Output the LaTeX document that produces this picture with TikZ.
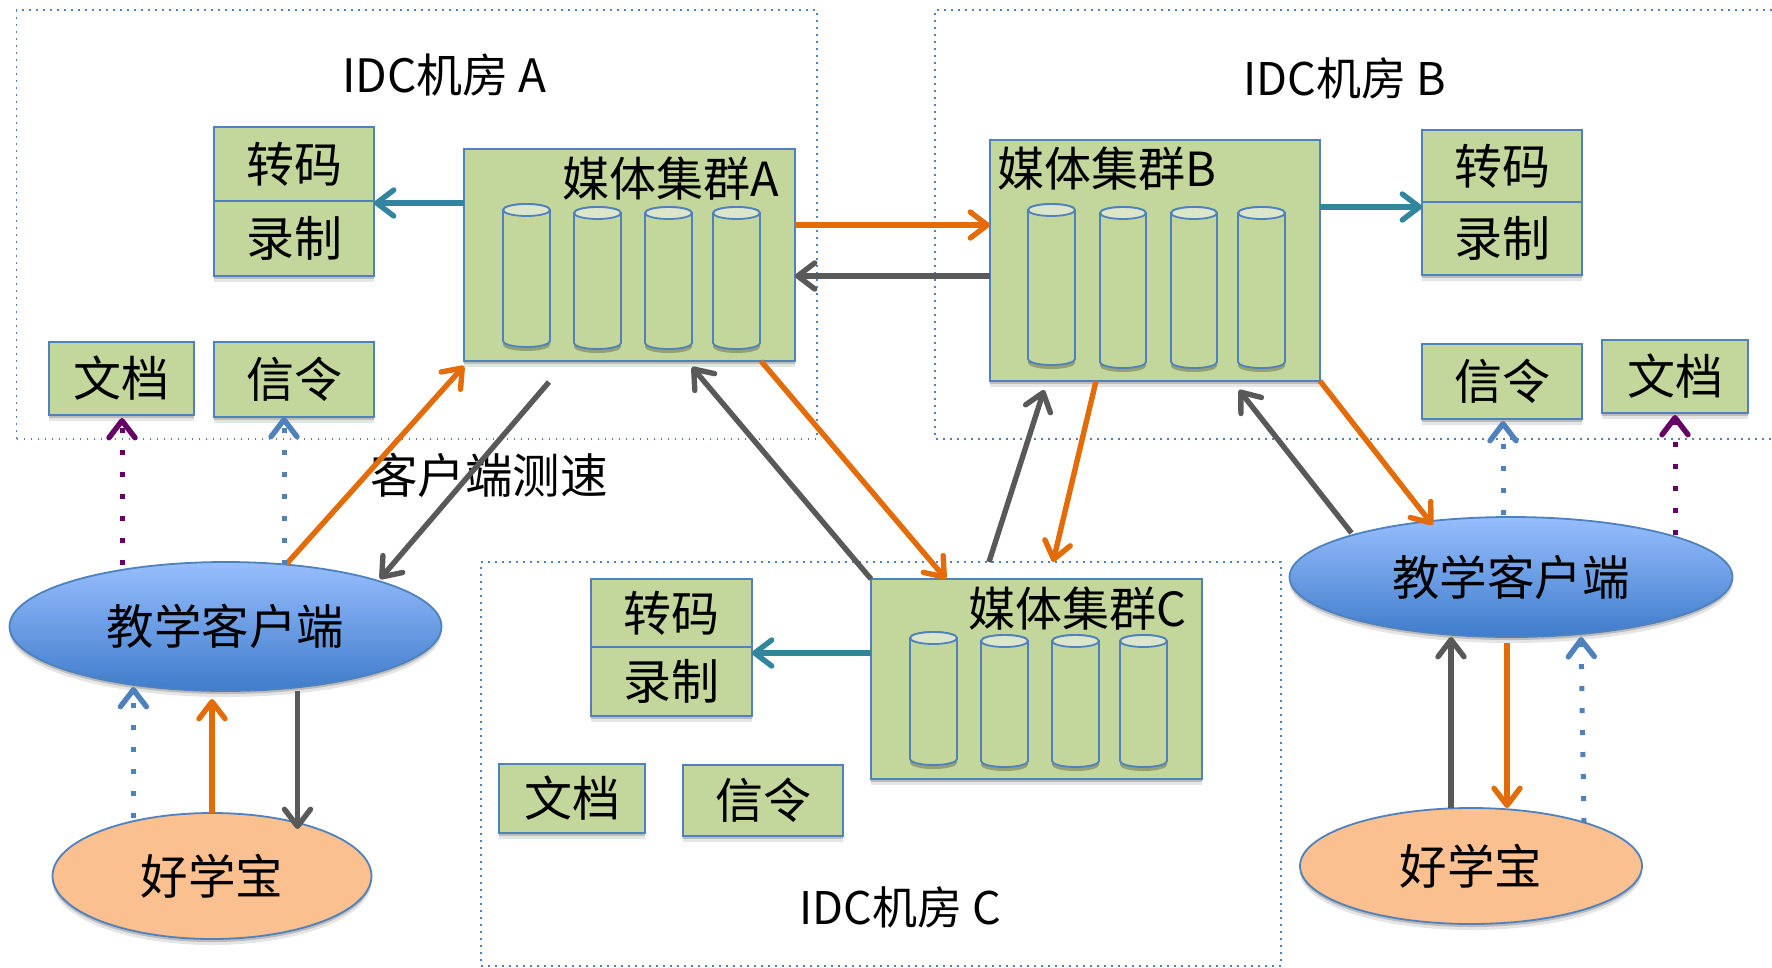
\documentclass[tikz,border=0pt]{standalone}
\usepackage{fontspec}
\setmainfont{Carlito}
\newfontfamily\cjk{Noto Sans CJK SC}
\usetikzlibrary{arrows.meta,shadows,calc,shapes.geometric}
\definecolor{boxfill}{HTML}{C3D69B}
\definecolor{boxline}{HTML}{4F81BD}
\definecolor{capfill}{HTML}{DCE6CB}
\definecolor{orangeL}{HTML}{E36C09}
\definecolor{grayL}{HTML}{595959}
\definecolor{tealL}{HTML}{31859C}
\definecolor{purpleL}{HTML}{660066}
\definecolor{peach}{HTML}{FAC090}
\definecolor{cliTop}{HTML}{97BEFD}
\definecolor{cliBot}{HTML}{3F7CCB}
\tikzset{
  softshadow/.style={drop shadow={shadow xshift=0pt,shadow yshift=-3pt,opacity=.18,fill=black},
                     drop shadow={shadow xshift=0pt,shadow yshift=-6pt,opacity=.10,fill=black}},
  txt/.style={font=\fontsize{46}{50}\selectfont\cjk,inner sep=0pt,text=black},
  lab/.style={font=\fontsize{47}{50}\selectfont\cjk,inner sep=0pt,text=black},
  box/.style={rectangle,draw=boxline,fill=boxfill,line width=2pt,inner sep=0pt,outer sep=0pt,
    font=\fontsize{48}{50}\selectfont\cjk,softshadow},
  room/.style={rectangle,draw=boxline,line width=1.6pt,dash pattern=on 1.8pt off 5.2pt,inner sep=0pt,outer sep=0pt},
  roomline/.style={draw=boxline,line width=1.6pt,dash pattern=on 1.8pt off 5.2pt},
  client/.style={ellipse,draw=boxline,line width=1.8pt,top color=cliTop,bottom color=cliBot,inner sep=0pt,outer sep=0pt,
    font=\fontsize{47.5}{50}\selectfont\cjk,softshadow},
  bao/.style={ellipse,draw=boxline,line width=1.8pt,fill=peach,inner sep=0pt,outer sep=0pt,
    font=\fontsize{47.5}{50}\selectfont\cjk,softshadow},
  flow/.style={line width=5.4pt,-{Straight Barb[length=17pt,width=26pt,line width=5.4pt,round]}},
  oflow/.style={flow,draw=orangeL},
  gflow/.style={flow,draw=grayL},
  tflow/.style={flow,draw=tealL},
  dflow/.style={line width=5pt,dash pattern=on 5pt off 17pt,-{Straight Barb[length=17pt,width=26pt,line width=5.4pt,round]}},
  bflow/.style={dflow,draw=boxline},
  pflow/.style={dflow,draw=purpleL},
}
\newcommand{\rbox}[6]{\node[box,minimum width={(#4-#2)*1pt},minimum height={(#5-#3)*1pt}] (#1) at ({(#2+#4)/2},{(#3+#5)/2}) {#6};}
\newcommand{\rroom}[5]{\node[room,minimum width={(#4-#2)*1pt},minimum height={(#5-#3)*1pt}] (#1) at ({(#2+#4)/2},{(#3+#5)/2}) {};}
\newcommand{\cyl}[4]{%
  \path[fill=boxfill,draw=boxline,line width=1.8pt,drop shadow={shadow xshift=0pt,shadow yshift=-4pt,opacity=.25,fill=black}]
    (#1,#3+6) -- (#1,#4-6) arc[start angle=180,end angle=360,x radius={(#2-#1)/2*1pt},y radius=6pt]
    -- (#2,#3+6) arc[start angle=0,end angle=180,x radius={(#2-#1)/2*1pt},y radius=6pt] -- cycle;
  \path[fill=capfill,draw=boxline,line width=1.8pt] ({(#1+#2)/2},#3+6) ellipse[x radius={(#2-#1)/2*1pt},y radius=6pt];
}
\begin{document}
\begin{tikzpicture}[x=1pt,y=-1pt]
\useasboundingbox (0,0) rectangle (1772,967);
% rooms
\rroom{roomA}{16.5}{10}{817}{439}
\draw[roomline] (1772,10) -- (935,10) -- (935,439) -- (1772,439);
\rroom{roomC}{481}{562}{1281}{966}
\node[txt] (titleA) at (444.5,75) {IDC机房 A};
\node[txt,font=\fontsize{45}{50}\selectfont\cjk] (titleB) at (1345,78) {IDC机房 B};
\node[txt,font=\fontsize{45}{50}\selectfont\cjk] (titleC) at (900,907) {IDC机房 C};
% room A boxes
\rbox{zmA}{214}{127}{374}{201}{转码}
\rbox{lzA}{214}{201}{374}{276}{录制}
\rbox{wdA}{49}{342}{194}{415}{文档}
\rbox{xlA}{214}{342}{374}{417}{信令}
\rbox{clA}{464}{149}{795}{361}{}
\node[lab] (labA) at (671,179) {媒体集群A};
\cyl{503}{550}{204}{347}
\cyl{574}{621}{207}{349}
\cyl{645}{692}{207}{349}
\cyl{713}{760}{207}{349}
% room B boxes
\rbox{zmB}{1422}{130}{1582}{202}{转码}
\rbox{lzB}{1422}{202}{1582}{275}{录制}
\rbox{xlB}{1422}{344}{1582}{419}{信令}
\rbox{wdB}{1602}{340}{1748}{413}{文档}
\rbox{clB}{990}{140}{1320}{381}{}
\node[lab] (labB) at (1107,169) {媒体集群B};
\cyl{1028}{1075}{204}{365}
\cyl{1100}{1146}{207}{368}
\cyl{1171}{1217}{207}{368}
\cyl{1238}{1285}{207}{368}
% room C boxes
\rbox{zmC}{591}{579}{752}{647}{转码}
\rbox{lzC}{591}{647}{752}{716}{录制}
\rbox{wdC}{499}{764}{645}{833}{文档}
\rbox{xlC}{683}{765}{843}{836}{信令}
\rbox{clC}{871}{579}{1202}{779}{}
\node[lab] (labC) at (1077,609) {媒体集群C};
\cyl{910}{957}{632}{765}
\cyl{981}{1028}{635}{767}
\cyl{1052}{1099}{635}{767}
\cyl{1120}{1167}{635}{767}
% clients
\node[client,minimum width=432pt,minimum height=129pt] (cliA) at (225.5,626.5) {教学客户端};
\node[client,minimum width=443pt,minimum height=120pt] (cliB) at (1511,577) {教学客户端};
\node[bao,minimum width=319pt,minimum height=126pt] (baoA) at (212,876) {好学宝};
\node[bao,minimum width=342pt,minimum height=116pt] (baoB) at (1471,866) {好学宝};
\node[lab,font=\fontsize{47.5}{50}\selectfont\cjk] (speed) at (489,475) {客户端测速};
% teal
\draw[tflow] (clA.west |- 0,203) -- (lzA.east |- 0,203);
\draw[tflow] (clB.east |- 0,207) -- (lzB.west |- 0,207);
\draw[tflow] (clC.west |- 0,653) -- (lzC.east |- 0,653);
% A-B
\draw[oflow] (clA.east |- 0,225) -- (clB.west |- 0,225);
\draw[gflow] (clB.west |- 0,276) -- (clA.east |- 0,276);
% A-C
\draw[oflow] (clA.south -| 761,0) -- (clC.north -| 946,0);
\draw[gflow] (clC.north west) -- ($(clA.south -| 692,0)+(0,6)$);
% B-C
\draw[gflow] (roomC.north -| 989,0) -- ($(clB.south -| 1044,0)+(0,9)$);
\draw[oflow] (clB.south -| 1096,0) -- (roomC.north -| 1053,0);
% B-client B
\draw[gflow] ($(cliB.center)+(-159.5,-44)$) -- ($(clB.south -| 1239,0)+(0,9)$);
\draw[oflow] (clB.south east) -- ($(cliB.center)+(-78.4,-52)$);
% A-client A
\draw[oflow] ($(cliA.center)+(60.5,-62)$) -- ($(clA.south west)+(0,5)$);
\draw[gflow] ($(clA.south -| 549,0)+(0,21)$) -- ($(cliA.center)+(154.5,-47.5)$);
% dotted client to boxes
\draw[pflow] ($(cliA.center)+(-103.5,-62)$) -- ($(wdA.south -| 122,0)+(0,3)$);
\draw[bflow] ($(cliA.center)+(58.5,-62)$) -- (xlA.south -| 284,0);
\draw[bflow] ($(cliB.center)+(-8,-62)$) -- ($(xlB.south -| 1503,0)+(0,2)$);
\draw[pflow] ($(cliB.center)+(164,-42)$) -- ($(wdB.south -| 1675,0)+(0,2)$);
% bao-client A
\draw[bflow] ($(baoA.center)+(-78.6,-58)$) -- ($(cliA.south -| 133.4,0)+(0,-4)$);
\draw[oflow] (baoA.north) -- ($(cliA.south -| 212,0)+(0,8)$);
\draw[gflow] (cliA.south -| 297.5,0) -- ($(baoA.center)+(85.5,-47)$);
% bao-client B
\draw[gflow] (baoB.north -| 1451,0) -- (cliB.south -| 1451,0);
\draw[oflow] ($(cliB.south -| 1507,0)+(0,6)$) -- (baoB.north -| 1507,0);
\draw[bflow] ($(baoB.center)+(113,-43)$) -- (cliB.south -| 1581,0);
\end{tikzpicture}
\end{document}
